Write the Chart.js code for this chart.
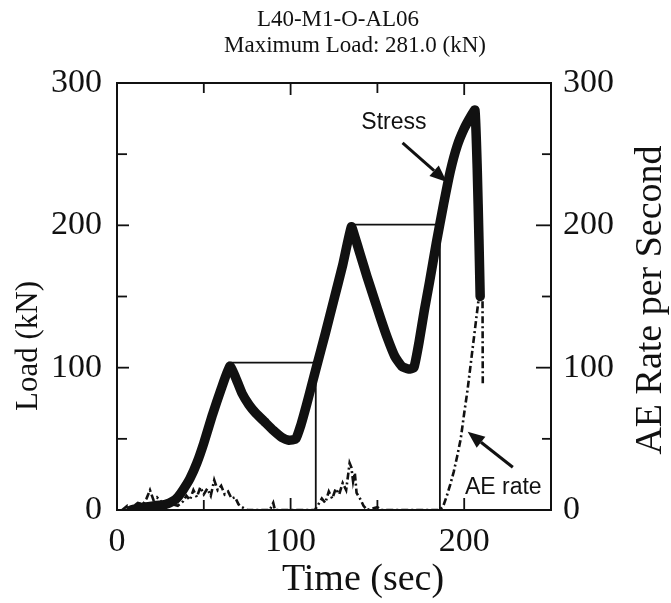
<!DOCTYPE html>
<html>
<head>
<meta charset="utf-8">
<script src="https://cdn.jsdelivr.net/npm/chart.js@4.4.1/dist/chart.umd.min.js"></script>
<style>
html,body{margin:0;padding:0;background:#fff;}
#c{display:block;}
</style>
</head>
<body>
<canvas id="c" width="671" height="603"></canvas>
<script>
// ---- data ----
const titleLines = ['L40-M1-O-AL06', 'Maximum Load: 281.0 (kN)'];
const xTitle = 'Time (sec)';
const yTitle = 'Load (kN)';
const y2Title = 'AE Rate per Second';

const xTicks = [0, 50, 100, 150, 200, 250];
const yTicks = [0, 50, 100, 150, 200, 250, 300];

// Stress (load) curve
const stressT = [8, 15, 22, 28, 32, 35, 38, 42, 46, 50, 55, 60, 65, 68, 72, 76, 80, 85, 90, 95, 99, 103,
  106, 109, 112, 115, 120, 125, 130, 135, 137, 140, 144, 148, 152, 156, 160, 164, 168, 171,
  174, 177, 180, 184, 188, 192, 196, 200, 204, 206.2, 207.5, 208.5, 209.2];
const stressL = [0, 2, 3, 4, 6, 9, 14, 22, 33, 47, 67, 85, 101, 94, 82, 74, 68, 62, 56, 51, 49, 50,
  60, 73, 87, 101, 124, 148, 172, 199, 192, 180, 164, 149, 134, 120, 108, 101, 99, 100,
  118, 140, 160, 188, 214, 238, 256, 268, 277, 281, 240, 190, 150];

// Thin step lines
const step1T = [64, 114.5, 114.5];
const step1L = [103.5, 103.5, 0];
const step2T = [135.5, 186, 186];
const step2L = [200.5, 200.5, 0];

// AE rate (right axis)
const aeT = [3, 6, 9, 12, 15, 17, 19, 21, 23, 26, 29, 32, 35, 38, 40, 42, 44, 46, 48, 50, 52, 54, 56, 58, 60, 62, 64,
  66, 68, 70, 72, 75, 88, 90, 91, 114, 116, 118, 120, 122, 124, 126, 128, 130, 132, 134, 135, 136, 137, 138,
  140, 142, 144, 150, 152, 186, 188, 190, 192, 194, 196, 198, 200, 202, 204, 206, 208, 209.5, 210.5, 210.7];
const aeR = [0, 3, 2, 5, 4, 8, 14, 7, 9, 5, 6, 4, 3, 6, 10, 7, 14, 9, 16, 11, 15, 10, 21, 14, 17, 11, 13,
  8, 9, 4, 2, 0, 0, 5, 0, 0, 4, 8, 5, 13, 8, 15, 11, 19, 14, 33, 30, 20, 26, 12,
  8, 3, 0, 2, 0, 0, 3, 10, 18, 27, 38, 50, 68, 85, 105, 125, 145, 160, 174, 89];

// annotations (data coordinates)
const stressLabel = {text: 'Stress', t: 159.5, v: 272};
const stressArrow = {t0: 164.5, v0: 258, t1: 190, v1: 230.5};
const aeLabel = {text: 'AE rate', t: 222.5, v: 16};
const aeArrow = {t0: 228, v0: 30, t1: 202, v1: 55};

// ---- build ----
const INK = '#111';
const SERIF = '"Liberation Serif", "Times New Roman", serif';
const SANS = '"Liberation Sans", Arial, sans-serif';
const pts = (xs, ys) => xs.map((x, i) => ({x: x, y: ys[i]}));

function line(ctx, x0, y0, x1, y1) { ctx.beginPath(); ctx.moveTo(x0, y0); ctx.lineTo(x1, y1); ctx.stroke(); }
function arrow(ctx, x0, y0, x1, y1) {
  ctx.lineWidth = 3;
  const ang = Math.atan2(y1 - y0, x1 - x0);
  const hl = 17, hw = 7;
  const bx = x1 - hl * Math.cos(ang), by = y1 - hl * Math.sin(ang);
  line(ctx, x0, y0, bx, by);
  ctx.beginPath();
  ctx.moveTo(x1, y1);
  ctx.lineTo(bx + hw * Math.sin(ang), by - hw * Math.cos(ang));
  ctx.lineTo(bx - hw * Math.sin(ang), by + hw * Math.cos(ang));
  ctx.closePath(); ctx.fill();
}

const framePlugin = {
  id: 'frame',
  afterDraw(chart) {
    const {ctx, chartArea: a, scales} = chart;
    ctx.save();
    ctx.strokeStyle = INK; ctx.fillStyle = INK;
    ctx.lineWidth = 2;
    ctx.strokeRect(a.left, a.top, a.right - a.left, a.bottom - a.top);
    ctx.lineWidth = 1.8;
    xTicks.forEach(v => {
      const p = scales.x.getPixelForValue(v);
      const len = v % 100 === 0 ? 12 : 10;
      line(ctx, p, a.bottom, p, a.bottom - len);
      line(ctx, p, a.top, p, a.top + len);
    });
    yTicks.forEach(v => {
      const len = v % 100 === 0 ? 12 : 10;
      const p = scales.y.getPixelForValue(v);
      line(ctx, a.left, p, a.left + len, p);
      const q = scales.y2.getPixelForValue(v);
      line(ctx, a.right, q, a.right - (v % 100 === 0 ? 15 : 9), q);
    });
    // titles
    ctx.textAlign = 'center'; ctx.textBaseline = 'alphabetic';
    ctx.font = '23px ' + SERIF;
    ctx.fillText(titleLines[0], 338, 26);
    ctx.fillText(titleLines[1], 355, 52);
    ctx.font = '38px ' + SERIF;
    ctx.fillText(xTitle, 363, 590);
    ctx.save();
    ctx.translate(37, 346); ctx.rotate(-Math.PI / 2);
    ctx.font = '31px ' + SERIF;
    ctx.fillText(yTitle, 0, 0);
    ctx.restore();
    ctx.save();
    ctx.translate(661, 300); ctx.rotate(-Math.PI / 2);
    ctx.font = '38px ' + SERIF;
    ctx.fillText(y2Title, 0, 0);
    ctx.restore();
    // annotations
    const X = scales.x, Y = scales.y;
    ctx.font = '23px ' + SANS;
    ctx.textBaseline = 'middle';
    ctx.fillText(stressLabel.text, X.getPixelForValue(stressLabel.t), Y.getPixelForValue(stressLabel.v));
    ctx.fillText(aeLabel.text, X.getPixelForValue(aeLabel.t), Y.getPixelForValue(aeLabel.v));
    arrow(ctx, X.getPixelForValue(stressArrow.t0), Y.getPixelForValue(stressArrow.v0),
      X.getPixelForValue(stressArrow.t1), Y.getPixelForValue(stressArrow.v1));
    arrow(ctx, X.getPixelForValue(aeArrow.t0), Y.getPixelForValue(aeArrow.v0),
      X.getPixelForValue(aeArrow.t1), Y.getPixelForValue(aeArrow.v1));
    ctx.restore();
  }
};

const tickFont = {family: SERIF, size: 34};
const labelCb = v => (v % 100 === 0 ? String(v) : '');

new Chart(document.getElementById('c'), {
  type: 'line',
  data: {
    datasets: [
      {label: 'Stress', data: pts(stressT, stressL), yAxisID: 'y', borderColor: INK, borderWidth: 9.5,
        pointRadius: 0, tension: 0.15, borderJoinStyle: 'round', borderCapStyle: 'round', order: 1},
      {label: 'step1', data: pts(step1T, step1L), yAxisID: 'y', borderColor: INK, borderWidth: 1.8,
        pointRadius: 0, tension: 0, order: 2},
      {label: 'step2', data: pts(step2T, step2L), yAxisID: 'y', borderColor: INK, borderWidth: 1.8,
        pointRadius: 0, tension: 0, order: 2},
      {label: 'AE rate', data: pts(aeT, aeR), yAxisID: 'y2', borderColor: INK, borderWidth: 2.6,
        borderDash: [7, 3, 2, 3], pointRadius: 0, tension: 0, order: 3}
    ]
  },
  options: {
    responsive: false, animation: false,
    layout: {padding: {top: 83, left: 0, right: 0, bottom: 0}},
    plugins: {legend: {display: false}, tooltip: {enabled: false}, title: {display: false}},
    scales: {
      x: {type: 'linear', min: 0, max: 250,
        grid: {display: false}, border: {display: false},
        ticks: {stepSize: 50, autoSkip: false, maxRotation: 0, callback: labelCb, font: tickFont, color: INK, padding: 4},
        afterFit(s) { s.height = 93; }},
      y: {type: 'linear', position: 'left', min: 0, max: 300,
        grid: {display: false}, border: {display: false},
        ticks: {stepSize: 50, autoSkip: false, callback: labelCb, font: tickFont, color: INK, padding: 7},
        afterFit(s) { s.width = 117; }},
      y2: {type: 'linear', position: 'right', min: 0, max: 300,
        grid: {display: false}, border: {display: false},
        ticks: {stepSize: 50, autoSkip: false, callback: labelCb, font: tickFont, color: INK, padding: 4},
        afterFit(s) { s.width = 120; }}
    }
  },
  plugins: [framePlugin]
});
</script>
</body>
</html>
